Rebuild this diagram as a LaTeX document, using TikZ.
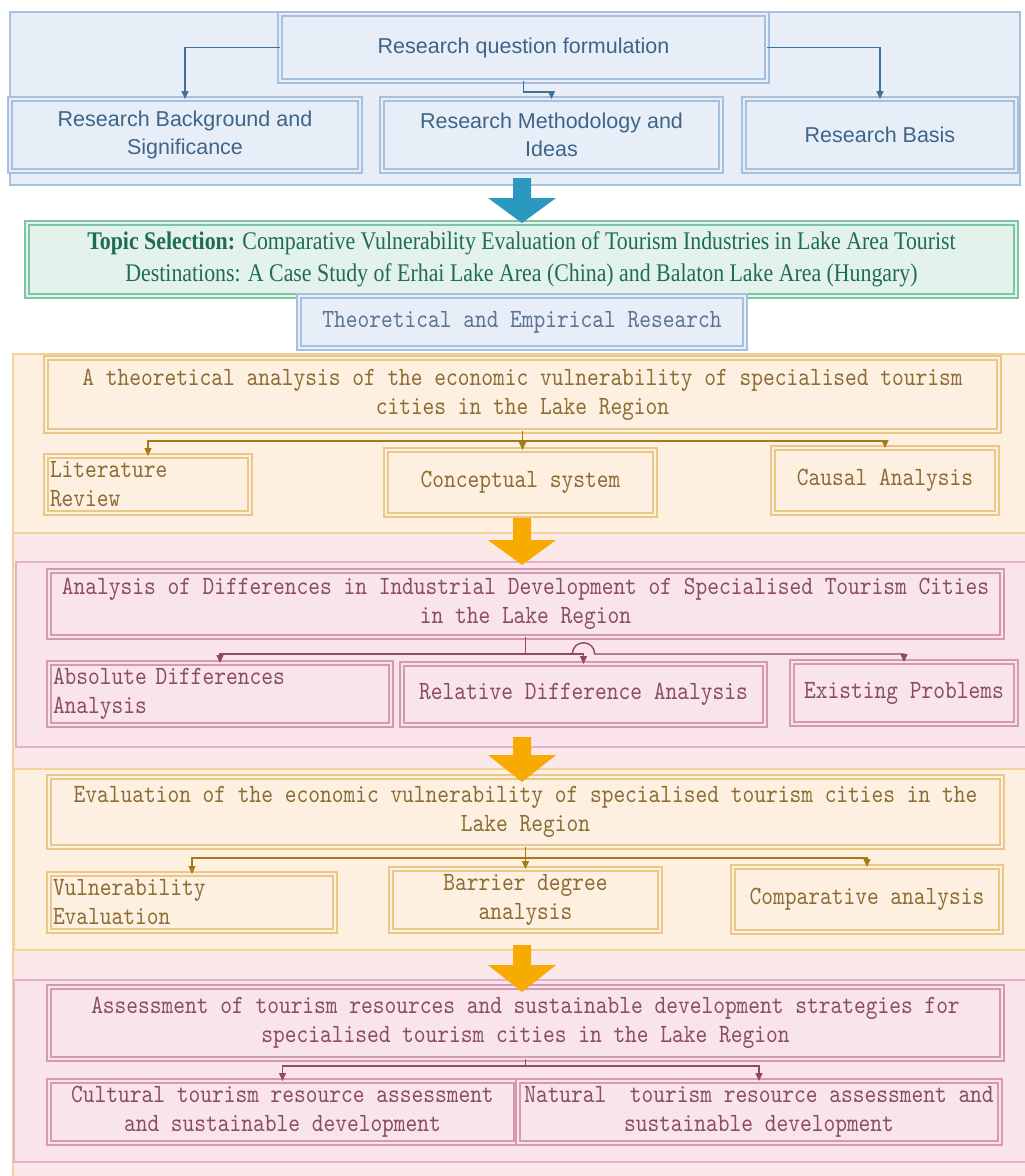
\documentclass[tikz,border=0pt]{standalone}
\usepackage{fontspec}
\setmainfont{Liberation Serif}
\newfontfamily\sansf{Liberation Sans}
\newfontfamily\monof{lmmono10-regular}[Extension=.otf, FakeStretch=0.85]
\newfontfamily\topicf{Liberation Serif}[FakeStretch=0.86]
\usetikzlibrary{arrows.meta,calc}
\definecolor{bpanel}{HTML}{E7EEF8}
\definecolor{bborder}{HTML}{A7C0DF}
\definecolor{btext}{HTML}{3D6489}
\definecolor{bline}{HTML}{3E7098}
\definecolor{barrow}{HTML}{2B98C0}
\definecolor{gfill}{HTML}{E3F3EC}
\definecolor{gborder}{HTML}{7DC5A5}
\definecolor{gtext}{HTML}{1E6B57}
\definecolor{tbtext}{HTML}{5E7391}
\definecolor{opanel}{HTML}{FDF0E1}
\definecolor{oborder}{HTML}{F4D29B}
\definecolor{oboxc}{HTML}{E8C789}
\definecolor{otext}{HTML}{8C6C33}
\definecolor{oline}{HTML}{A47B17}
\definecolor{oarrow}{HTML}{F7AA00}
\definecolor{pouter}{HTML}{FBE8E8}
\definecolor{ppanel}{HTML}{F9E4EC}
\definecolor{pborder}{HTML}{E4B2C4}
\definecolor{pboxc}{HTML}{D69AB0}
\definecolor{ptext}{HTML}{8A4C61}
\definecolor{pline}{HTML}{8E4A63}
\tikzset{
  box/.style={draw, line width=1.3pt, double distance=2.8pt, inner sep=0pt, outer sep=0pt, align=center},
  bbox/.style={box, draw=bborder, double=bpanel, fill=bpanel, text=btext, font=\sansf\fontsize{21.5}{28}\selectfont},
  obox/.style={box, draw=oboxc, double=opanel, fill=opanel, text=otext, font=\monof\fontsize{26.3}{29}\selectfont},
  pbox/.style={box, draw=pboxc, double=ppanel, fill=ppanel, text=ptext, font=\monof\fontsize{26.3}{29}\selectfont},
  lbox/.style={align=left, inner xsep=4pt},
  conn/.style={line width=1.4pt, -{Triangle[width=7pt,length=8pt]}},
  bconn/.style={conn, draw=bline},
  oconn/.style={conn, draw=oline},
  pconn/.style={conn, draw=pline},
  panel/.style={line width=1.2pt}
}
\begin{document}
\begin{tikzpicture}[x=1pt,y=-1pt]
\useasboundingbox (0,0) rectangle (1025,1176);
\clip (0,0) rectangle (1025,1176);
\fill[white] (0,0) rectangle (1025,1176);
% ---- panels
\filldraw[panel, fill=bpanel, draw=bborder] (10,12) rectangle (1020,185);
\filldraw[panel, fill=opanel, draw=oborder] (13,354) rectangle (1030,533);
\filldraw[panel, fill=pouter, draw=oborder] (13,533) rectangle (1030,1190);
\filldraw[panel, fill=ppanel, draw=pborder] (16,562) rectangle (1030,747);
\filldraw[panel, fill=opanel, draw=oborder] (14,769) rectangle (1030,950);
\filldraw[panel, fill=ppanel, draw=pborder] (14,980) rectangle (1030,1162);
% ---- blue
\node[bbox, minimum width=487, minimum height=67] (rq) at (523.5,47.5) {Research question formulation};
\node[bbox, minimum width=350, minimum height=72] (rb) at (185,135) {Research Background and\\Significance};
\node[bbox, minimum width=339, minimum height=72] (rm) at (551.5,135) {Research Methodology and\\Ideas};
\node[bbox, minimum width=272, minimum height=72] (rbasis) at (880,135) {Research Basis};
\draw[bconn] (rq.west) -| (rb.north);
\draw[bconn] (rq.east) -| (rbasis.north);
\draw[bconn] (rq.south) -- ++(0,11) -| (rm.north);
% ---- topic
\node[box, draw=gborder, double=gfill, fill=gfill, text=gtext, minimum width=989, minimum height=73,
      font=\topicf\fontsize{25.4}{32}\selectfont] (topic) at (521.5,259.5)
  {\textbf{Topic Selection:} Comparative Vulnerability Evaluation of Tourism Industries in Lake Area Tourist\\Destinations: A Case Study of Erhai Lake Area (China) and Balaton Lake Area (Hungary)};
\node[box, draw=bborder, double=bpanel, fill=bpanel, text=tbtext, minimum width=446, minimum height=52,
      font=\monof\fontsize{26.3}{29}\selectfont] (ter) at (522,322) {Theoretical and Empirical Research};
% ---- orange A
\node[obox, minimum width=953, minimum height=73] (ta) at (522.5,394.5)
  {A theoretical analysis of the economic vulnerability of specialised tourism\\cities in the Lake Region};
\node[obox, lbox, text width=196, minimum height=57] (lit) at (148,484.5) {Literature\\Review};
\node[obox, minimum width=269, minimum height=65] (con) at (520.5,482.5) {Conceptual system};
\node[obox, minimum width=224, minimum height=65] (cau) at (885,480.5) {Causal Analysis};
\draw[oconn] (ta.south) -- (ta.south |- con.north);
\draw[oconn] (ta.south) ++(0,10) -| (lit.north);
\draw[oconn] (ta.south) ++(0,10) -| (cau.north);
% ---- pink B
\node[pbox, minimum width=953, minimum height=66] (ad) at (525.5,604)
  {Analysis of Differences in Industrial Development of Specialised Tourism Cities\\in the Lake Region};
\node[pbox, lbox, text width=334, minimum height=62] (abs) at (220,694) {Absolute Differences\\Analysis};
\node[pbox, minimum width=363, minimum height=61] (rel) at (583.5,694.5) {Relative Difference Analysis};
\node[pbox, minimum width=224, minimum height=62] (exi) at (904,693) {Existing Problems};
\draw[line width=1.4pt, pline] (ad.south) -- ++(0,17) coordinate (hb);
\coordinate (hop) at (rel.north |- hb);
\draw[pconn] (hb) -| (abs.north);
\draw[pconn] (hb) -- ($(hop)+(-11,0)$) .. controls ($(hop)+(-11,-15)$) and ($(hop)+(11,-15)$) .. ($(hop)+(11,0)$) -| (exi.north);
\draw[pconn] (hb) -- (hop) -- (rel.north);
% ---- orange C
\node[obox, minimum width=953, minimum height=70] (ev) at (525.5,812)
  {Evaluation of the economic vulnerability of specialised tourism cities in the\\Lake Region};
\node[obox, lbox, text width=278, minimum height=57] (vul) at (192,902.5) {Vulnerability\\Evaluation};
\node[obox, minimum width=269, minimum height=62] (bar) at (525.5,900) {Barrier degree\\analysis};
\node[obox, minimum width=268, minimum height=65] (comp) at (867,899.5) {Comparative analysis};
\draw[oconn] (ev.south) -- (ev.south |- bar.north);
\draw[oconn] (ev.south) ++(0,11) -| (vul.north);
\draw[oconn] (ev.south) ++(0,11) -| (comp.north);
% ---- pink D
\node[pbox, minimum width=953, minimum height=72] (as) at (525.5,1023)
  {Assessment of tourism resources and sustainable development strategies for\\specialised tourism cities in the Lake Region};
\node[pbox, minimum width=467, minimum height=62] (cul) at (282.5,1112) {Cultural tourism resource assessment\\and sustainable development};
\node[pbox, minimum width=482, minimum height=62] (nat) at (759,1112) {Natural\ \ tourism resource assessment and\\sustainable development};
\draw[pconn] (as.south) ++(0,7) -| (cul.north);
\draw[pconn] (as.south) ++(0,7) -| (nat.north);
\draw[line width=1.4pt, pline] (as.south) -- ++(0,7);
% ---- big arrows (on top)
\fill[barrow] (513,178) -- (531,178) -- (531,198) -- (556,198) -- (522,223) -- (488,198) -- (513,198) -- cycle;
\fill[oarrow] (513,518) -- (531,518) -- (531,540) -- (556,540) -- (522,565) -- (488,540) -- (513,540) -- cycle;
\fill[oarrow] (513,737) -- (531,737) -- (531,755) -- (556,755) -- (522,782) -- (488,755) -- (513,755) -- cycle;
\fill[oarrow] (513,945) -- (531,945) -- (531,965) -- (556,965) -- (522,992) -- (488,965) -- (513,965) -- cycle;
\end{tikzpicture}
\end{document}
